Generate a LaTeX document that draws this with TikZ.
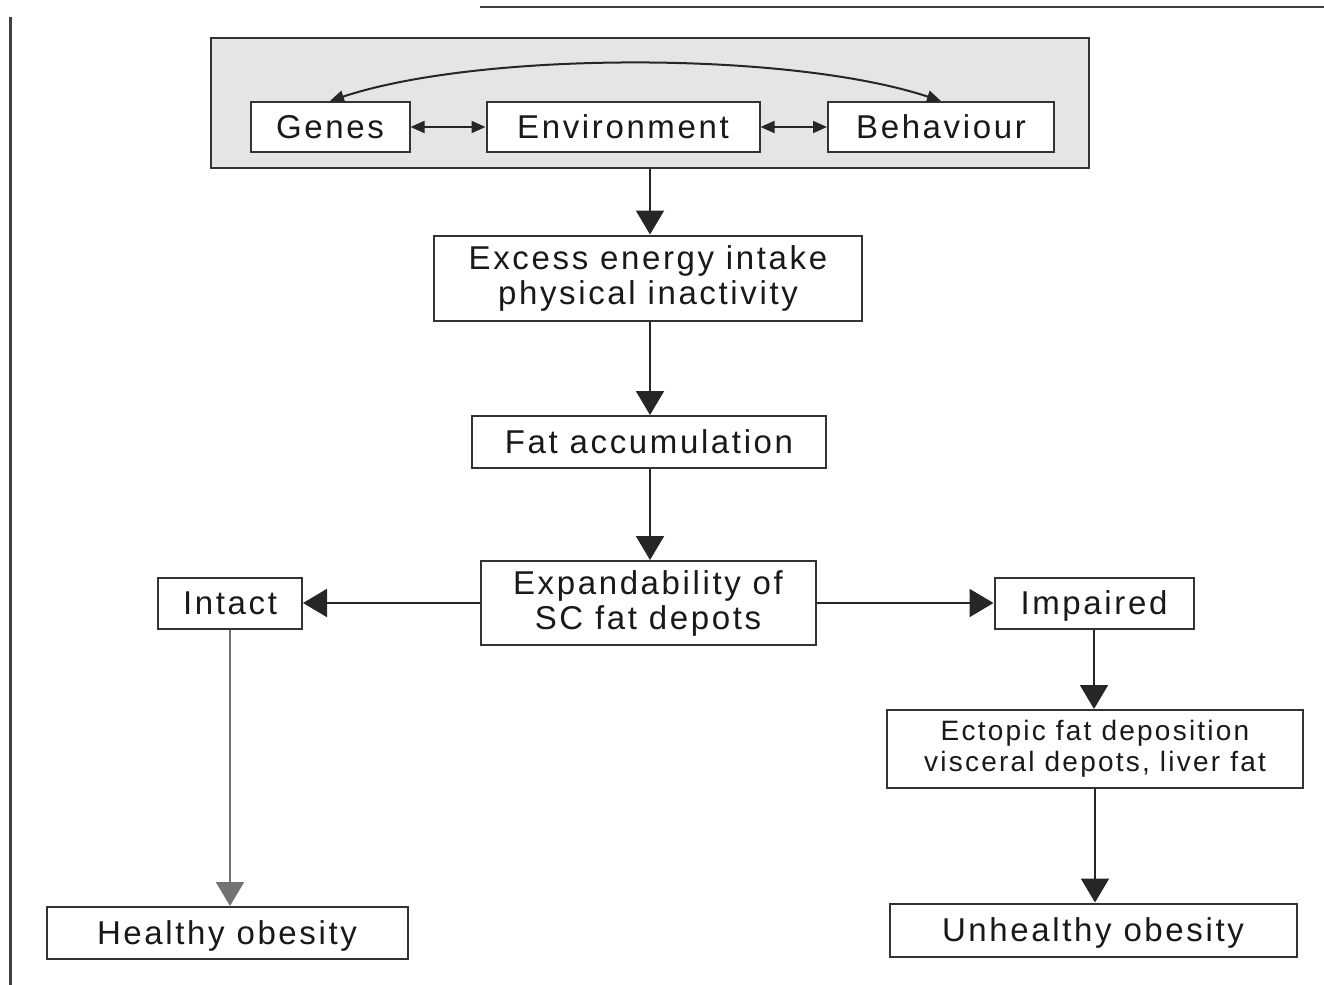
\documentclass[tikz,border=0pt]{standalone}
\usepackage{fontspec}
\setmainfont{Liberation Sans}[LetterSpace=8]
\usetikzlibrary{arrows.meta}
\usetikzlibrary{positioning}
\tikzstyle{box}=[draw=black!80, line width=1pt, fill=white, inner sep=0pt, align=center, text=black!90, font=\fontsize{16.5}{17.5}\selectfont]
\tikzstyle{line}=[box, text height=11.8pt, text depth=0pt]
\tikzset{>={Triangle[length=12pt,width=14pt]}}

\begin{document}
\begin{tikzpicture}[x=0.5pt,y=-0.5pt]
        \tikzstyle{small}=[{Triangle[length=7pt,width=6pt]}-{Triangle[length=7pt,width=6pt]}, line width=1pt, black!85]
        \tikzstyle{flow}=[->, line width=1pt, black!85]
        \useasboundingbox (0,0) rectangle (1324,985);

        % Page rules
        \draw [black!75, line width=1.5pt] (10,17) -- (10,985);
        \draw [black!75, line width=1pt] (480,7) -- (1324,7);

        % Factors
        \node at (650,103) [box, fill=black!10, minimum width=439pt, minimum height=65pt] (factors) {};
        \node at (330,127) [line, minimum width=79.5pt, minimum height=25pt] (genes) {Genes};
        \node at (623,127) [line, minimum width=136.5pt, minimum height=25pt] (environment) {Environment};
        \node at (941,127) [line, minimum width=113pt, minimum height=25pt] (behaviour) {Behaviour};

        \draw [small] (genes) to (environment);
        \draw [small] (environment) to (behaviour);
        \draw [small] (genes.north) .. controls (480,51) and (790,51) .. (behaviour.north);

        % Chain
        \node at (648,278) [box, minimum width=214pt, minimum height=42.5pt] (excess) {Excess energy intake\\physical inactivity};
        \node at (649,442) [line, minimum width=177pt, minimum height=26pt] (fat) {Fat accumulation};
        \node at (648,603) [box, minimum width=167.5pt, minimum height=42pt] (expand) {Expandability of\\SC fat depots};

        \draw [flow] (factors.south) -- (excess.north -| factors.south);
        \draw [flow] (excess.south -| factors.south) -- (fat.north -| factors.south);
        \draw [flow] (fat.south -| factors.south) -- (expand.north -| factors.south);

        % Left branch
        \node at (230,603) [line, minimum width=72pt, minimum height=25.5pt] (intact) {Intact};
        \node at (227,933) [line, minimum width=180.5pt, minimum height=26pt] (healthy) {Healthy obesity};
        \draw [flow] (expand) -- (intact);
        \draw [flow, black!55] (intact.south) -- (healthy.north -| intact.south);

        % Right branch
        \node at (1094,603) [line, minimum width=99.5pt, minimum height=25.5pt] (impaired) {Impaired};
        \node at (1095,749) [box, minimum width=208pt, minimum height=39pt, font=\fontsize{14}{15.5}\selectfont] (ectopic) {Ectopic fat deposition\\visceral depots, liver fat};
        \node at (1093,930) [line, minimum width=203.5pt, minimum height=26.5pt] (unhealthy) {Unhealthy obesity};
        \draw [flow] (expand) -- (impaired);
        \draw [flow] (impaired.south) -- (ectopic.north -| impaired.south);
        \draw [flow] (ectopic.south) -- (unhealthy.north -| ectopic.south);
\end{tikzpicture}
\end{document}
